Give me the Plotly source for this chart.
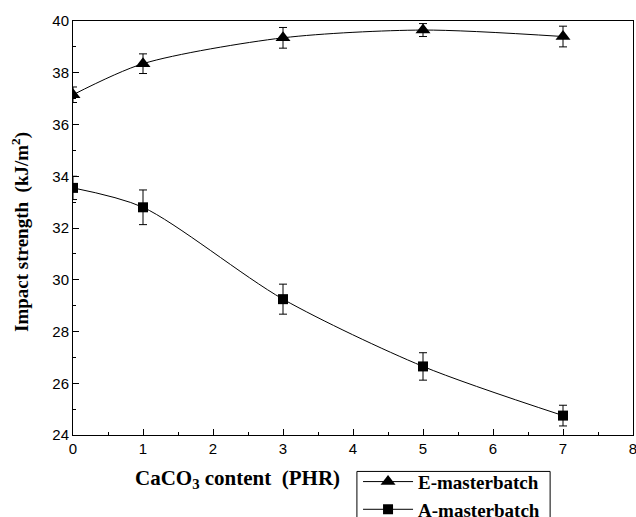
import plotly.graph_objects as go

# Data
caco3_phr = [0, 1, 3, 5, 7]
e_masterbatch = [37.15, 38.35, 39.35, 39.65, 39.4]
e_error = [0.3, 0.38, 0.4, 0.25, 0.4]
a_masterbatch = [33.55, 32.8, 29.25, 26.65, 24.75]
a_error = [0.45, 0.67, 0.58, 0.53, 0.4]

x_ticks = [0, 1, 2, 3, 4, 5, 6, 7, 8]
y_ticks = [24, 26, 28, 30, 32, 34, 36, 38, 40]

SERIF = "Liberation Serif, Times New Roman, serif"
SANS = "Liberation Sans, Arial, sans-serif"
NB = "\u00a0"

fig = go.Figure()
fig.add_trace(go.Scatter(
    x=caco3_phr, y=e_masterbatch, name="E-masterbatch",
    mode="lines+markers",
    line=dict(color="black", width=1, shape="spline", smoothing=0.8),
    marker=dict(symbol="triangle-up", size=13, color="black"),
    error_y=dict(type="data", array=e_error, color="black", thickness=1, width=4),
))
fig.add_trace(go.Scatter(
    x=caco3_phr, y=a_masterbatch, name="A-masterbatch",
    mode="lines+markers",
    line=dict(color="black", width=1, shape="spline", smoothing=0.8),
    marker=dict(symbol="square", size=10, color="black"),
    error_y=dict(type="data", array=a_error, color="black", thickness=1, width=4),
))

axis_common = dict(
    showline=True, linecolor="black", linewidth=1, mirror=True,
    ticks="inside", ticklen=6, tickwidth=1, tickcolor="black",
    showgrid=False, zeroline=False, ticklabeloverflow="allow",
    tickfont=dict(family=SANS, size=15, color="black"),
)
fig.update_xaxes(range=[0, 8], tickvals=x_ticks, ticktext=[str(v) for v in x_ticks],
                 minor=dict(dtick=0.5, ticks="inside", ticklen=3, tickcolor="black"),
                 **axis_common)
fig.update_yaxes(range=[24, 40], tickvals=y_ticks, ticktext=[str(v) for v in y_ticks],
                 minor=dict(dtick=1, ticks="inside", ticklen=3, tickcolor="black"),
                 **axis_common)

fig.add_annotation(
    text="<b>Impact strength" + NB * 2 + "(kJ/m<sup>2</sup>)</b>",
    xref="paper", yref="paper", x=-0.095, y=0.49, textangle=-90,
    showarrow=False, font=dict(family=SERIF, size=19, color="black"),
    xanchor="center", yanchor="middle",
)
fig.add_annotation(
    text="<b>CaCO<sub>3</sub> content" + NB * 2 + "(PHR)</b>",
    xref="paper", yref="paper", x=0.293, y=-0.107,
    showarrow=False, font=dict(family=SERIF, size=21, color="black"),
    xanchor="center", yanchor="middle",
)

# legend frame (extends past the bottom edge, as in the reference)
fig.add_shape(
    type="rect", xref="paper", yref="paper",
    x0=0.507, x1=0.852, y0=-0.088, y1=-0.30,
    line=dict(color="black", width=1), fillcolor="rgba(0,0,0,0)", layer="above",
)

fig.update_layout(
    width=636, height=517,
    margin=dict(l=73, r=3, t=21, b=82, autoexpand=False),
    paper_bgcolor="white", plot_bgcolor="white",
    showlegend=True,
    legend=dict(
        x=0.509, y=-0.067, xanchor="left", yanchor="top",
        borderwidth=0, bgcolor="rgba(0,0,0,0)",
        font=dict(family=SERIF, size=19, color="black", weight="bold"),
        tracegroupgap=0, itemwidth=50,
    ),
)

fig.write_html("out.html")
